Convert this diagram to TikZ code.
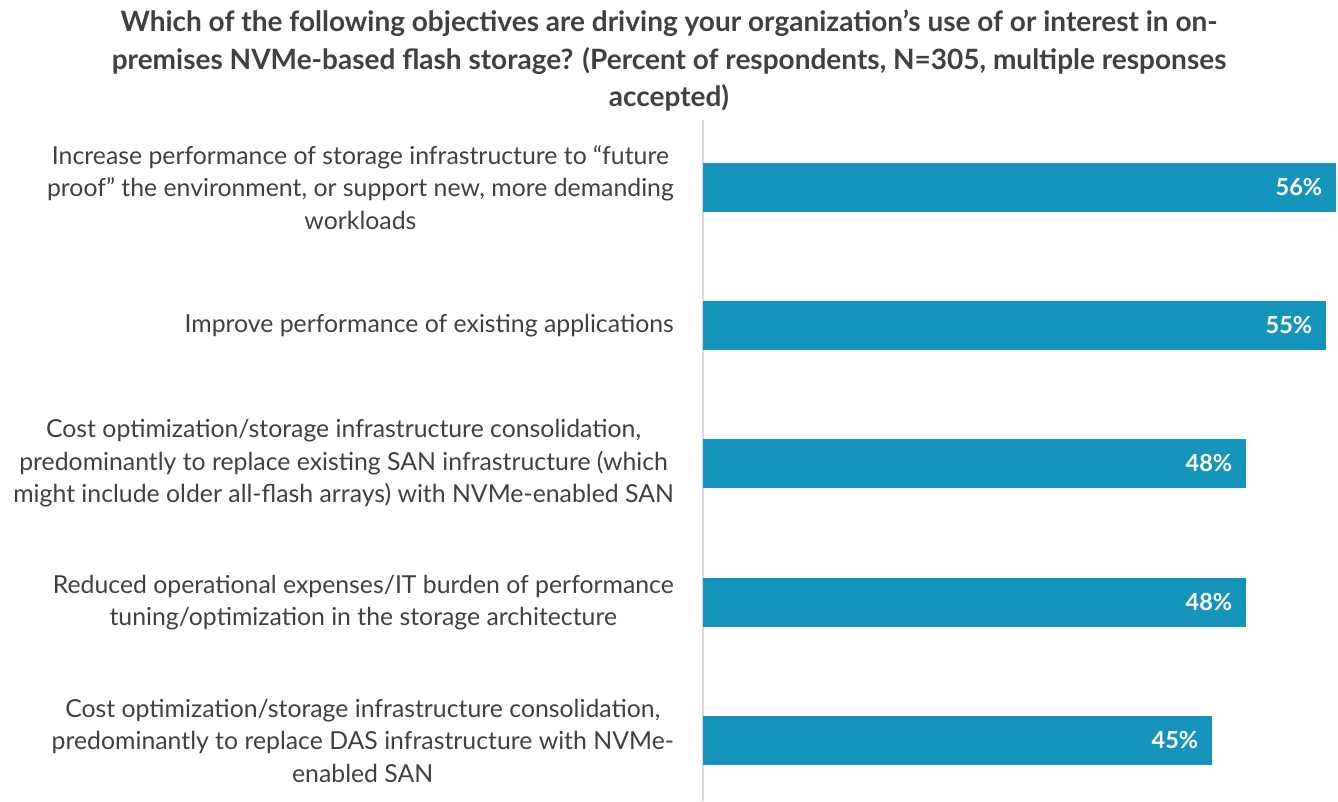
\documentclass[tikz,border=0pt]{standalone}
\usepackage{fontspec}
\setmainfont{Lato}
\usetikzlibrary{positioning}
\definecolor{barblue}{HTML}{1594BB}
\definecolor{txtgray}{HTML}{404040}
\definecolor{axisgray}{HTML}{D9D9D9}

\begin{document}
\begin{tikzpicture}[
    x=1pt, y=-1pt,
    bar/.style={rectangle, fill=barblue, draw=none, inner sep=0pt, minimum height=49pt, anchor=west},
    val/.style={text=white, font=\fontsize{23.5}{26}\selectfont\bfseries, anchor=east, inner sep=0pt},
    lbl/.style={text=txtgray, font=\fontsize{24.8}{32.5}\selectfont, align=center, anchor=east, inner sep=0pt},
    ttl/.style={text=txtgray, font=\fontsize{28}{37.5}\selectfont\bfseries, align=center, inner sep=0pt}
]
\useasboundingbox (0,0) rectangle (1338,801);

% Title
\node[ttl] (title) at (669,61) {Which of the following objectives are driving your organization’s use of or interest in on-\\premises NVMe-based flash storage? (Percent of respondents, N=305, multiple responses\\accepted)};

% Axis
\coordinate (axtop) at (703,120);
\coordinate (axbot) at (703,801);
\draw[axisgray, line width=2pt] (axtop) -- (axbot);

% Bars
\node[bar, minimum width=633pt] (bar1) at (703,187.5) {};
\node[bar, minimum width=623pt] (bar2) at (703,325.5) {};
\node[bar, minimum width=543pt] (bar3) at (703,463.5) {};
\node[bar, minimum width=543pt] (bar4) at (703,602.5) {};
\node[bar, minimum width=509pt] (bar5) at (703,740.5) {};

% Values
\node[val, left=14pt of bar1.east] (val1) {56\%};
\node[val, left=14pt of bar2.east] (val2) {55\%};
\node[val, left=14pt of bar3.east] (val3) {48\%};
\node[val, left=14pt of bar4.east] (val4) {48\%};
\node[val, left=14pt of bar5.east] (val5) {45\%};

% Labels
\node[lbl, left=29pt of bar1.west] (lbl1) {Increase performance of storage infrastructure to “future\\proof” the environment, or support new, more demanding\\workloads};
\node[lbl, left=29pt of bar2.west] (lbl2) {Improve performance of existing applications};
\node[lbl, left=29pt of bar3.west] (lbl3) {Cost optimization/storage infrastructure consolidation,\\predominantly to replace existing SAN infrastructure (which\\might include older all-flash arrays) with NVMe-enabled SAN};
\node[lbl, left=29pt of bar4.west] (lbl4) {Reduced operational expenses/IT burden of performance\\tuning/optimization in the storage architecture};
\node[lbl, left=29pt of bar5.west] (lbl5) {Cost optimization/storage infrastructure consolidation,\\predominantly to replace DAS infrastructure with NVMe-\\enabled SAN};

\end{tikzpicture}
\end{document}
